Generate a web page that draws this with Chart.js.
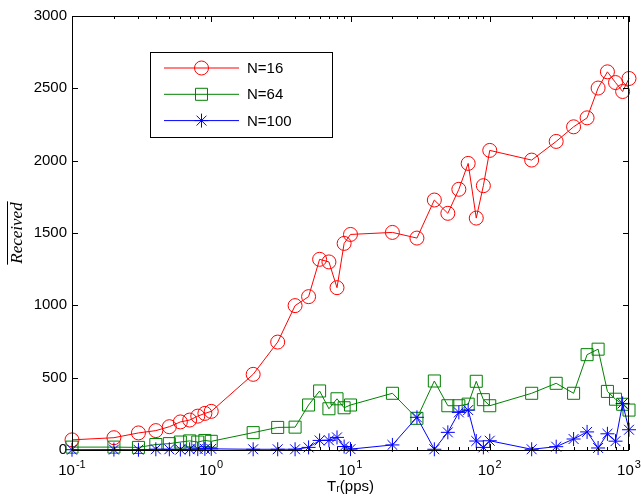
<!DOCTYPE html>
<html>
<head>
<meta charset="utf-8">
<script src="https://cdn.jsdelivr.net/npm/chart.js@4.4.1/dist/chart.umd.min.js"></script>
<style>
html, body { margin: 0; padding: 0; background: #fff; }
</style>
</head>
<body>
<canvas id="chart" width="641" height="498"></canvas>
<script>
// Sending rate T_r (pps), log scale
const rates = [
    0.1, 0.2, 0.3, 0.4, 0.5, 0.6, 0.7, 0.8, 0.9, 1,
    2, 3, 4, 5, 6, 7, 8, 9, 10,
    20, 30, 40, 50, 60, 70, 80, 90, 100,
    200, 300, 400, 500, 600, 700, 800, 900, 1000,
];

const receivedN16 = [
    70, 85, 118, 134, 161, 194, 207, 234, 253, 267,
    523, 746, 998, 1060, 1318, 1300, 1122, 1428, 1490,
    1504, 1465, 1728, 1636, 1802, 1981, 1603, 1827, 2071,
    2004, 2133, 2234, 2296, 2502, 2614, 2540, 2478, 2568,
];

const receivedN64 = [
    20, 20, 18, 38, 44, 55, 63, 55, 66, 60,
    120, 156, 158, 311, 408, 285, 354, 292, 311,
    392, 219, 477, 306, 306, 317, 475, 348, 306,
    392, 461, 392, 659, 697, 405, 351, 316, 276,
];

const receivedN100 = [
    2, 3, 2, 5, 5, 3, 5, 6, 8, 8,
    5, 5, 5, 18, 66, 67, 87, 24, 6,
    35, 226, 5, 122, 260, 276, 62, 18, 64,
    5, 23, 76, 125, 14, 112, 61, 322, 140,
];

const seriesLabels = ["N=16", "N=64", "N=100"];
const xTickValues = [0.1, 1, 10, 100, 1000];
const xTickExponents = ["-1", "0", "1", "2", "3"];
const yTickValues = [0, 500, 1000, 1500, 2000, 2500, 3000];

const FONT = "'Liberation Sans', Arial, Helvetica, sans-serif";

function toPoints(values) {
    return rates.map((r, i) => ({ x: r, y: values[i] }));
}

// frame box, inward ticks, x tick labels, legend box and the overline on the y title
const framePlugin = {
    id: "frame",
    afterDraw(chart) {
        const ctx = chart.ctx;
        const a = chart.chartArea;
        const xs = chart.scales.x;
        const ys = chart.scales.y;
        ctx.save();
        ctx.strokeStyle = "#000";
        ctx.lineWidth = 1;
        ctx.strokeRect(a.left + 0.5, a.top + 0.5, a.right - a.left - 1, a.bottom - a.top);

        ctx.beginPath();
        for (let e = -1; e <= 3; e++) {
            for (let m = 1; m <= 9; m++) {
                const v = m * Math.pow(10, e);
                if (v > 1000) break;
                const px = Math.round(xs.getPixelForValue(v)) + 0.5;
                const len = m === 1 ? 6 : 3;
                ctx.moveTo(px, a.bottom);
                ctx.lineTo(px, a.bottom - len);
                ctx.moveTo(px, a.top);
                ctx.lineTo(px, a.top + len);
            }
        }
        yTickValues.forEach((v) => {
            const py = Math.round(ys.getPixelForValue(v)) + 0.5;
            ctx.moveTo(a.left, py);
            ctx.lineTo(a.left + 6, py);
            ctx.moveTo(a.right, py);
            ctx.lineTo(a.right - 6, py);
        });
        ctx.stroke();

        // x tick labels as 10 with a raised exponent
        ctx.fillStyle = "#000";
        ctx.textBaseline = "alphabetic";
        ctx.textAlign = "left";
        xTickValues.forEach((v, i) => {
            const px = xs.getPixelForValue(v);
            ctx.font = "15px " + FONT;
            const wBase = ctx.measureText("10").width;
            ctx.font = "11px " + FONT;
            const wExp = ctx.measureText(xTickExponents[i]).width;
            const x0 = px - (wBase + wExp + 1) / 2;
            ctx.font = "15px " + FONT;
            ctx.fillText("10", x0, a.bottom + 25);
            ctx.font = "11px " + FONT;
            ctx.fillText(xTickExponents[i], x0 + wBase + 1, a.bottom + 18);
        });

        // legend
        const lx = 150, ly = 52, lw = 182, lh = 85;
        ctx.fillStyle = "#fff";
        ctx.fillRect(lx, ly, lw, lh);
        ctx.strokeStyle = "#000";
        ctx.strokeRect(lx + 0.5, ly + 0.5, lw, lh);
        chart.data.datasets.forEach((ds, i) => {
            const y = 68 + i * 26.3;
            ctx.strokeStyle = ds.borderColor;
            ctx.lineWidth = 1;
            ctx.beginPath();
            ctx.moveTo(164, y);
            ctx.lineTo(239, y);
            ctx.stroke();
            ctx.fillStyle = "rgba(0,0,0,0)";
            Chart.helpers.drawPoint(ctx, {
                pointStyle: ds.pointStyle,
                radius: ds.pointRadius,
                borderWidth: 1,
                rotation: 0,
            }, 201.5, y);
            ctx.fillStyle = "#000";
            ctx.font = "15px " + FONT;
            ctx.textBaseline = "middle";
            ctx.textAlign = "left";
            ctx.fillText(ds.label, 247, y + 1);
        });

        // overline over "Received"
        ctx.font = "italic 17px 'Liberation Serif', 'Times New Roman', serif";
        const w = ctx.measureText("Received").width;
        const cy = (a.top + a.bottom) / 2;
        ctx.strokeStyle = "#000";
        ctx.beginPath();
        ctx.moveTo(7.5, cy - w / 2 - 1);
        ctx.lineTo(7.5, cy + w / 2 + 1);
        ctx.stroke();
        ctx.restore();
    },
};

new Chart(document.getElementById("chart"), {
    type: "line",
    data: {
        datasets: [{
                label: seriesLabels[0],
                data: toPoints(receivedN16),
                borderColor: "#ff0000",
                backgroundColor: "rgba(0,0,0,0)",
                pointStyle: "circle",
                pointRadius: 7,
                order: 3,
            },
            {
                label: seriesLabels[1],
                data: toPoints(receivedN64),
                borderColor: "#008000",
                backgroundColor: "rgba(0,0,0,0)",
                pointStyle: "rect",
                pointRadius: 8.5,
                order: 2,
            },
            {
                label: seriesLabels[2],
                data: toPoints(receivedN100),
                borderColor: "#0000ff",
                backgroundColor: "rgba(0,0,0,0)",
                pointStyle: "star",
                pointRadius: 7,
                order: 1,
            },
        ],
    },
    options: {
        responsive: false,
        animation: false,
        events: [],
        layout: {
            padding: { top: 16, right: 12, left: 0, bottom: 0 },
        },
        datasets: {
            line: {
                borderWidth: 1,
                pointBorderWidth: 1,
                pointBackgroundColor: "rgba(0,0,0,0)",
                tension: 0,
                clip: false,
            },
        },
        scales: {
            x: {
                type: "logarithmic",
                min: 0.1,
                max: 1000,
                grid: { display: false, drawTicks: false },
                border: { display: false },
                afterBuildTicks: (scale) => {
                    scale.ticks = xTickValues.map((v) => ({ value: v }));
                },
                afterFit: (scale) => {
                    scale.height = 48;
                    scale.paddingLeft = 0;
                    scale.paddingRight = 0;
                },
                ticks: {
                    autoSkip: false,
                    maxRotation: 0,
                    // drawn by the frame plugin with raised exponents
                    callback: () => "",
                },
                title: {
                    display: true,
                    text: "T\u1D63(pps)",
                    color: "#000",
                    font: { family: FONT, size: 15 },
                    padding: { top: 0, bottom: 2 },
                },
            },
            y: {
                min: 0,
                max: 3000,
                grid: { display: false, drawTicks: false },
                border: { display: false },
                afterBuildTicks: (scale) => {
                    scale.ticks = yTickValues.map((v) => ({ value: v }));
                },
                afterFit: (scale) => {
                    scale.width = 72;
                    scale.paddingTop = 0;
                    scale.paddingBottom = 0;
                },
                ticks: {
                    padding: 5,
                    color: "#000",
                    font: { family: FONT, size: 15 },
                    callback: (v) => String(v),
                },
                title: {
                    display: true,
                    text: "Received",
                    color: "#000",
                    font: { family: "'Liberation Serif', 'Times New Roman', serif", size: 17, style: "italic" },
                    padding: { top: 7, bottom: 0 },
                },
            },
        },
        plugins: {
            legend: { display: false },
            tooltip: { enabled: false },
        },
    },
    plugins: [framePlugin],
});
</script>
</body>
</html>
